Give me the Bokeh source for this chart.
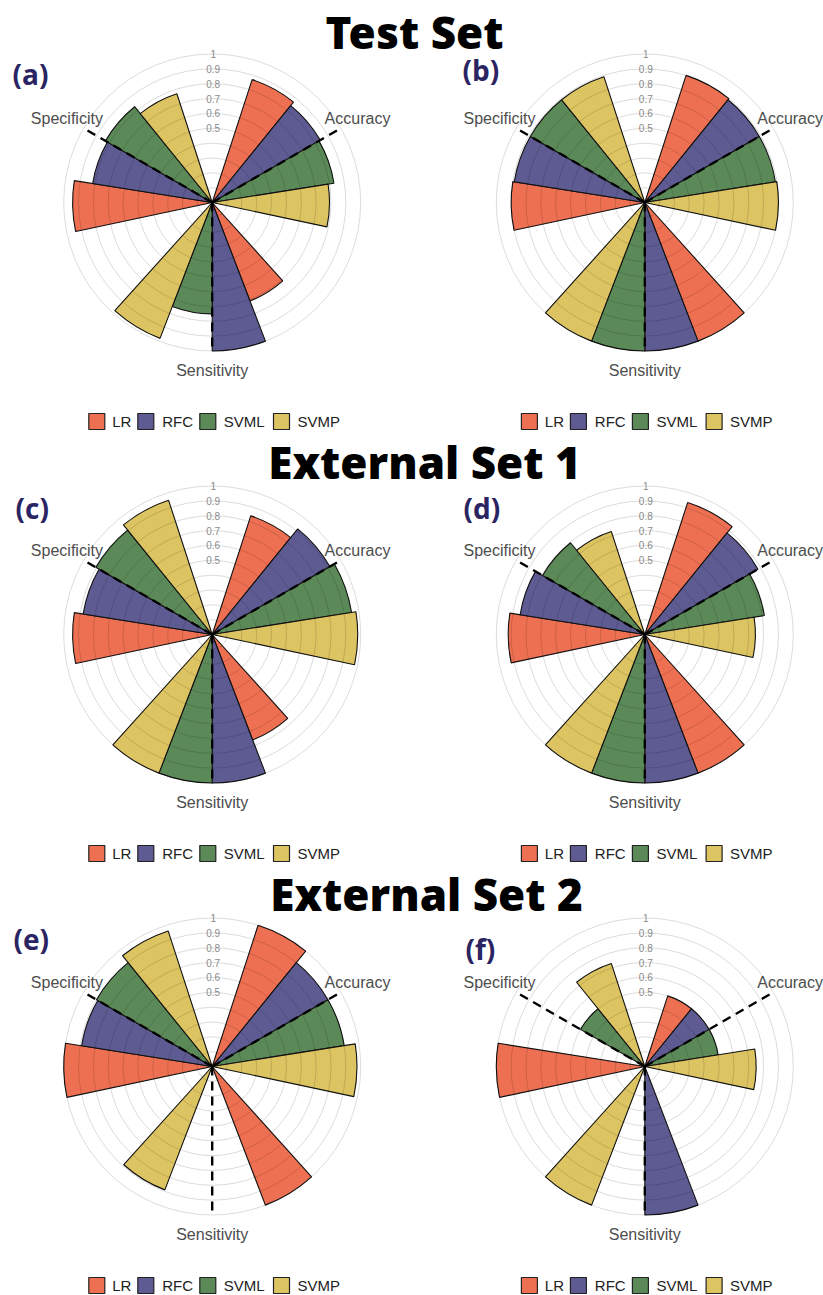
import numpy as np
from bokeh.plotting import figure
from bokeh.layouts import column
from bokeh.models import ColumnDataSource, Range1d
from bokeh.core.properties import value
from bokeh.embed import file_html
from bokeh.resources import INLINE

# ---- data -------------------------------------------------------------
metrics = ["Accuracy", "Sensitivity", "Specificity"]
models = ["LR", "RFC", "SVML", "SVMP"]
model_colors = ["#EE7052", "#5E5B92", "#5B8A58", "#DDC462"]

section_titles = ["Test Set", "External Set 1", "External Set 2"]
panel_tags = ["(a)", "(b)", "(c)", "(d)", "(e)", "(f)"]

# scores per panel: one row per metric, one column per model (0 = no bar)
scores_a = [[0.87, 0.84, 0.83, 0.79],
            [0.71, 1.00, 0.75, 0.98],
            [0.94, 0.815, 0.83, 0.77]]
scores_b = [[0.90, 0.89, 0.89, 0.90],
            [1.00, 1.00, 1.00, 1.00],
            [0.90, 0.89, 0.89, 0.89]]
scores_c = [[0.84, 0.915, 0.95, 0.98],
            [0.76, 1.00, 1.00, 1.00],
            [0.94, 0.88, 0.905, 0.95]]
scores_d = [[0.935, 0.88, 0.815, 0.745],
            [1.00, 1.00, 1.00, 1.00],
            [0.92, 0.85, 0.795, 0.73]]
scores_e = [[1.00, 0.90, 0.90, 0.975],
            [1.00, 0.00, 0.00, 0.89],
            [1.00, 0.89, 0.90, 0.96]]
scores_f = [[0.50, 0.50, 0.50, 0.75],
            [0.00, 1.00, 0.00, 1.00],
            [1.00, 0.00, 0.50, 0.73]]

ring_levels = [0.1, 0.2, 0.3, 0.4, 0.5, 0.6, 0.7, 0.8, 0.9, 1.0]
ring_label_levels = [0.5, 0.6, 0.7, 0.8, 0.9, 1.0]
ring_label_texts = ["0.5", "0.6", "0.7", "0.8", "0.9", "1"]

# ---- layout ------------------------------------------------------------
W = 823
ROW_H = [432, 432, 431]
S = 148.5                 # pixels per unit of score (radius of the "1" ring)
CX = [211.7, 644.3]       # panel centres, px from left
CY = 202.0                # panel centres, px from row top
TITLE_X = [414, 424, 426]
TITLE_Y = [31, 29, 29]    # vertical middle of the title caps, px from row top
TAG_POS = [(12, 73), (462, 69), (15, 75), (463, 75), (13, 74), (465, 84)]

BAR_DEG = 21.0            # angular width of one bar
LABEL_R = 1.13
LEG_SQ = [-115.4, -66.4, -4.4, 69.3]     # square centres, px from panel centre
LEG_TX = [-100.0, -50.0, 11.6, 85.3]     # label starts, px from panel centre
LEG_Y = 421

TITLE_FONT = value("Open Sans ExtraBold, Open Sans")

panels = [scores_a, scores_b, scores_c, scores_d, scores_e, scores_f]


def make_row(r):
    H = ROW_H[r]
    p = figure(width=W, height=H, output_backend="svg", toolbar_location=None,
               x_range=Range1d(0, W / S), y_range=Range1d(0, H / S),
               x_axis_location=None, y_axis_location=None, min_border=0,
               outline_line_color=None, background_fill_color="white",
               border_fill_color="white")
    p.xgrid.visible = False
    p.ygrid.visible = False

    def ux(px):
        return px / S

    def uy(px):
        return (H - px) / S

    cy = uy(CY)
    for k in range(2):
        idx = 2 * r + k
        scores = panels[idx]
        cx = ux(CX[k])

        xs, ys, rad, a0, a1, col = [], [], [], [], [], []
        for i, m in enumerate(metrics):
            centre = 60.0 + 120.0 * i            # clockwise from 12 o'clock
            for j, mdl in enumerate(models):
                v = scores[i][j]
                if v <= 0:
                    continue
                t0 = centre + (j - 2) * BAR_DEG
                t1 = t0 + BAR_DEG
                xs.append(cx)
                ys.append(cy)
                rad.append(v)
                a0.append(np.deg2rad(90.0 - t1))
                a1.append(np.deg2rad(90.0 - t0))
                col.append(model_colors[j])
        src = ColumnDataSource(dict(x=xs, y=ys, r=rad, a0=a0, a1=a1, c=col))
        p.wedge(x="x", y="y", radius="r", start_angle="a0", end_angle="a1",
                direction="anticlock", fill_color="c", fill_alpha=1.0,
                line_color="#111111", line_width=1.1, source=src)

        # concentric grid rings (drawn over the bars so they show through)
        p.circle(x=[cx] * len(ring_levels), y=[cy] * len(ring_levels),
                 radius=ring_levels, fill_color=None, line_color="black",
                 line_alpha=0.14, line_width=1)

        # dashed spokes at each metric
        spoke_t = [60.0 + 120.0 * i for i in range(len(metrics))]
        p.ray(x=[cx] * 3, y=[cy] * 3, length=1.0, length_units="data",
              angle=[np.deg2rad(90.0 - t) for t in spoke_t],
              line_color="black", line_width=2.4, line_dash="9 6")

        # ring value labels along the vertical
        p.text(x=[cx + ux(1)] * len(ring_label_levels),
               y=[cy + v for v in ring_label_levels], text=ring_label_texts,
               text_font=value("Liberation Sans"), text_font_size="10px",
               text_color="#8a8a8a", text_align="center",
               text_baseline="middle")

        # metric labels around the circle
        p.text(x=[cx + LABEL_R * np.sin(np.deg2rad(t)) for t in spoke_t],
               y=[cy + LABEL_R * np.cos(np.deg2rad(t)) for t in spoke_t],
               text=metrics, text_font=value("Liberation Sans"),
               text_font_size="16px", text_color="#4d4d4d",
               text_align="center", text_baseline="middle")

        # panel tag
        tx, ty = TAG_POS[idx]
        p.text(x=[ux(tx)], y=[uy(ty)], text=[panel_tags[idx]],
               text_font=value("Open Sans"), text_font_style="bold",
               text_font_size="28px", text_color="#2A2463",
               text_align="left", text_baseline="middle")

        # legend
        p.scatter(x=[cx + ux(d) for d in LEG_SQ], y=[uy(LEG_Y)] * 4,
                  marker="square", size=16, fill_color=model_colors,
                  line_color="#222222", line_width=1.2)
        p.text(x=[cx + ux(d) for d in LEG_TX], y=[uy(LEG_Y)] * 4,
               text=models, text_font=value("Liberation Sans"),
               text_font_size="15px", text_color="#222222",
               text_align="left", text_baseline="middle")

    # section title
    p.text(x=[ux(TITLE_X[r])], y=[uy(TITLE_Y[r])], text=[section_titles[r]],
           text_font=TITLE_FONT, text_font_style="bold",
           text_font_size="44px", text_color="black",
           text_align="center", text_baseline="middle")
    return p


rows = [make_row(r) for r in range(3)]
page = column(*rows, spacing=0)

open("out.html", "w").write(file_html(page, INLINE))
